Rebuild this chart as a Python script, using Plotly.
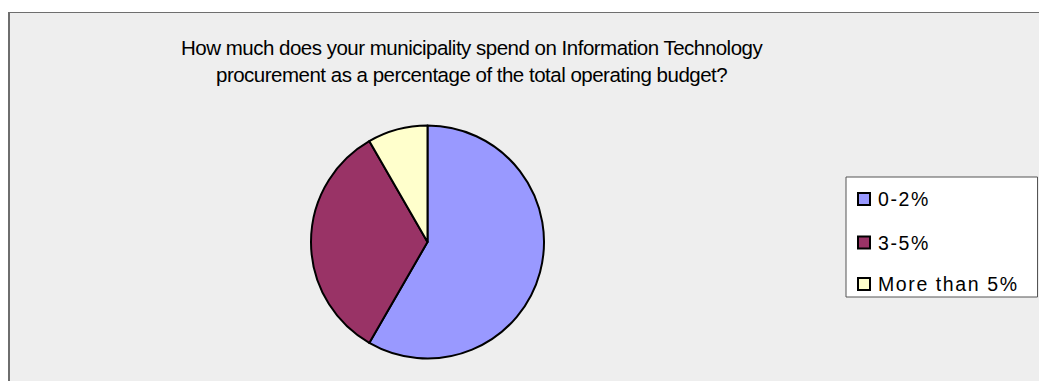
import plotly.graph_objects as go

W, H = 1039, 381

categories = ["0-2%", "3-5%", "More than 5%"]
counts = [7, 4, 1]
colors = ["#9999FF", "#993366", "#FFFFCC"]
title_lines = [
    "How much does your municipality spend on Information Technology",
    "procurement as a percentage of the total operating budget?",
]

def px(x):
    return x / W

def py(y):
    return 1 - y / H

FONT = "Liberation Sans, Arial, sans-serif"

# pie geometry (pixels)
cx, cy, r = 427.5, 242.0, 116.5

fig = go.Figure()
fig.add_trace(go.Pie(
    labels=categories,
    values=counts,
    sort=False,
    direction="clockwise",
    rotation=0,
    textinfo="none",
    hoverinfo="label+value+percent",
    marker=dict(colors=colors, line=dict(color="#000000", width=2)),
    domain=dict(x=[px(cx - r), px(cx + r)], y=[py(cy + r), py(cy - r)]),
    showlegend=False,
))

shapes = [
    # chart area background
    dict(type="rect", xref="paper", yref="paper", x0=px(8), x1=px(1040), y0=py(382), y1=py(12),
         fillcolor="#EEEEEE", line=dict(width=0), layer="below"),
    dict(type="line", xref="paper", yref="paper", x0=px(9), x1=px(9), y0=py(382), y1=py(12),
         line=dict(color="#6E6E6E", width=2)),
    dict(type="line", xref="paper", yref="paper", x0=px(8), x1=px(1040), y0=py(12.5), y1=py(12.5),
         line=dict(color="#6E6E6E", width=1)),
    # legend box
    dict(type="rect", xref="paper", yref="paper", x0=px(846), x1=px(1037.5), y0=py(297), y1=py(177),
         fillcolor="#FFFFFF", line=dict(color="#555555", width=1)),
]

annotations = [
    dict(text="<br>".join('<span style="letter-spacing:-0.5px">' + t + '</span>' for t in title_lines),
         xref="paper", yref="paper", x=px(472), y=py(61),
         xanchor="center", yanchor="middle", showarrow=False,
         font=dict(family=FONT, size=20.5, color="#000000")),
]

item_y = [199, 242.5, 284]
for i, (lab, col) in enumerate(zip(categories, colors)):
    yc = item_y[i]
    shapes.append(dict(type="rect", xref="paper", yref="paper",
                       x0=px(858), x1=px(870), y0=py(yc + 6), y1=py(yc - 6),
                       fillcolor=col, line=dict(color="#000000", width=2)))
    annotations.append(dict(text='<span style="letter-spacing:1.6px">' + lab + '</span>',
                            xref="paper", yref="paper", x=px(876), y=py(yc),
                            xanchor="left", yanchor="middle", showarrow=False,
                            font=dict(family=FONT, size=19.5, color="#000000")))

fig.update_layout(
    width=W, height=H,
    margin=dict(l=0, r=0, t=0, b=0, pad=0),
    paper_bgcolor="#FFFFFF",
    plot_bgcolor="#FFFFFF",
    shapes=shapes,
    annotations=annotations,
)

fig.write_html("out.html", include_plotlyjs=True, full_html=True,
               config=dict(displayModeBar=False))
